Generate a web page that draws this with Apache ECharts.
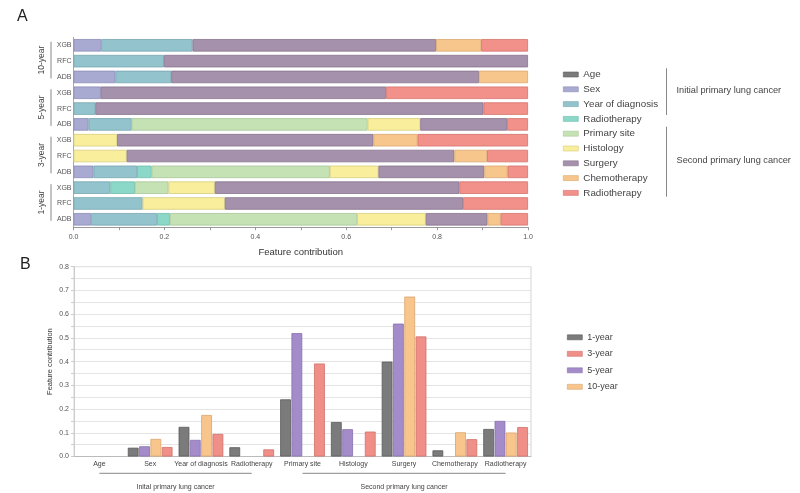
<!DOCTYPE html>
<html><head><meta charset="utf-8">
<script src="https://cdn.jsdelivr.net/npm/echarts/dist/echarts.min.js"></script>
<style>html,body{margin:0;padding:0;background:#fff}#c{width:800px;height:493px}</style>
</head><body><div id="c"></div><script>
// ---------- Panel A data ----------
var horizons = ['10-year', '5-year', '3-year', '1-year'];
var models = ['XGB', 'RFC', 'ADB'];
var featureNames = ['Age', 'Sex', 'Year of diagnosis', 'Radiotherapy', 'Primary site', 'Histology', 'Surgery', 'Chemotherapy', 'Radiotherapy'];
var featureKeys = ['Age', 'Sex', 'Year of diagnosis', 'Radiotherapy (initial)', 'Primary site', 'Histology', 'Surgery', 'Chemotherapy', 'Radiotherapy (second)'];
// rows: 10y XGB,RFC,ADB | 5y XGB,RFC,ADB | 3y XGB,RFC,ADB | 1y XGB,RFC,ADB
var aAge       = [0, 0, 0,         0, 0, 0,         0, 0, 0,         0, 0, 0];
var aSex       = [0.061, 0, 0.092, 0.060, 0, 0.033, 0, 0, 0.044,     0, 0, 0.039];
var aYear      = [0.201, 0.199, 0.123, 0, 0.048, 0.095, 0, 0, 0.096, 0.081, 0.152, 0.145];
var aRadioInit = [0, 0, 0,         0, 0, 0,         0, 0, 0.032,     0.054, 0, 0.028];
var aPrimary   = [0, 0, 0,         0, 0, 0.519,     0, 0, 0.392,     0.074, 0, 0.412];
var aHistology = [0, 0, 0,         0, 0, 0.116,     0.096, 0.117, 0.107, 0.102, 0.181, 0.151];
var aSurgery   = [0.536, 0.801, 0.677, 0.628, 0.854, 0.191, 0.564, 0.721, 0.233, 0.538, 0.524, 0.136];
var aChemo     = [0.099, 0, 0.108, 0, 0, 0,         0.097, 0.072, 0.051, 0, 0, 0.029];
var aRadioSec  = [0.103, 0, 0,     0.312, 0.098, 0.046, 0.243, 0.090, 0.045, 0.151, 0.143, 0.060];
var aTicks = ['0.0', '0.2', '0.4', '0.6', '0.8', '1.0'];

// ---------- Panel B data ----------
var bCategories = ['Age', 'Sex', 'Year of diagnosis', 'Radiotherapy', 'Primary site', 'Histology', 'Surgery', 'Chemotherapy', 'Radiotherapy'];
var b1year  = [0, 0.037, 0.125, 0.039, 0.241, 0.145, 0.400, 0.026, 0.116];
var b5year  = [0, 0.043, 0.070, 0, 0.520, 0.115, 0.560, 0, 0.150];
var b10year = [0, 0.074, 0.175, 0, 0, 0, 0.674, 0.102, 0.101];
var b3year  = [0, 0.040, 0.095, 0.030, 0.392, 0.105, 0.506, 0.073, 0.124];
var bTicks = ['0.0', '0.1', '0.2', '0.3', '0.4', '0.5', '0.6', '0.7', '0.8'];

// ---------- styles ----------
var aColors  = ['#7b7b7b', '#a9aad1', '#93c3cd', '#8bd8c8', '#c5e2b5', '#f8ee9c', '#a591ab', '#f7c68c', '#f2908a'];
var aBorders = ['#5e5e5e', '#8c8db6', '#77a6b0', '#6fbcac', '#a9c699', '#d8ce7e', '#88748e', '#d9a86f', '#d4726c'];
var bNames   = ['1-year', '5-year', '10-year', '3-year'];
var bColors  = ['#7b7b7b', '#a48cca', '#f8c58c', '#f08f88'];
var bBorders = ['#5c5c5c', '#8670ad', '#d9a56d', '#d0706a'];

var rowKeys = [];
horizons.forEach(function (h) { models.forEach(function (m) { rowKeys.push(h + '|' + m); }); });
var aSeriesData = [aAge, aSex, aYear, aRadioInit, aPrimary, aHistology, aSurgery, aChemo, aRadioSec];
var bSeriesData = [b1year, b5year, b10year, b3year];
function nz(arr) { return arr.map(function (v) { return v === 0 ? null : v; }); }

var legendLabel = {};
featureKeys.forEach(function (k, i) { legendLabel[k] = featureNames[i]; });
bNames.forEach(function (k) { legendLabel[k] = k; });

var bKeys = bCategories.map(function (c, i) { return i + '|' + c; });

var series = [];
featureKeys.forEach(function (k, i) {
  series.push({
    name: k, type: 'bar', stack: 'a', xAxisIndex: 0, yAxisIndex: 0,
    barCategoryGap: '21%',
    data: nz(aSeriesData[i]),
    itemStyle: { color: aColors[i], borderColor: aBorders[i], borderWidth: 0.8 }
  });
});
bNames.forEach(function (k, i) {
  series.push({
    name: k, type: 'bar', xAxisIndex: 1, yAxisIndex: 1,
    barCategoryGap: '12%', barGap: '5%',
    data: nz(bSeriesData[i]),
    itemStyle: { color: bColors[i], borderColor: bBorders[i], borderWidth: 0.8 }
  });
});

var font = 'Liberation Sans, Arial, sans-serif';
var chart = echarts.init(document.getElementById('c'), null, { renderer: 'canvas' });
chart.setOption({
  animation: false,
  textStyle: { fontFamily: font },
  grid: [
    { left: 73.5, top: 37.4, width: 454.5, height: 189.8 },
    { left: 74, top: 266.7, width: 457, height: 189.8, show: true, borderColor: '#d4d4d4', borderWidth: 1 }
  ],
  legend: [
    {
      orient: 'vertical', left: 558, top: 64.5, itemWidth: 15, itemHeight: 5, itemGap: 4.8,
      icon: 'rect', itemStyle: { borderWidth: 0.6 },
      data: featureKeys, formatter: function (n) { return legendLabel[n]; },
      textStyle: { fontSize: 9.8, color: '#444', fontFamily: font }, selectedMode: false
    },
    {
      orient: 'vertical', left: 562, top: 327.8, itemWidth: 15, itemHeight: 5, itemGap: 7.5,
      icon: 'rect', itemStyle: { borderWidth: 0.6 },
      data: ['1-year', '3-year', '5-year', '10-year'],
      textStyle: { fontSize: 9, color: '#444', fontFamily: font }, selectedMode: false
    }
  ],
  xAxis: [
    {
      type: 'value', gridIndex: 0, min: 0, max: 1, interval: 0.2,
      splitLine: { show: false },
      axisLine: { show: true, lineStyle: { color: '#999' } },
      axisTick: { show: true, length: 3, lineStyle: { color: '#999' } },
      minorTick: { show: true, splitNumber: 2, length: 3, lineStyle: { color: '#999' } },
      axisLabel: { fontSize: 7, color: '#555', margin: 6, formatter: function (v) { return aTicks[Math.round(v / 0.2)]; } },
      name: 'Feature contribution', nameLocation: 'middle', nameGap: 20, nameMoveOverlap: false,
      nameTextStyle: { fontSize: 9.5, color: '#333' }
    },
    {
      type: 'category', gridIndex: 1, data: bKeys,
      axisLine: { show: true, lineStyle: { color: '#bbb' } },
      axisTick: { show: false },
      axisLabel: { interval: 0, fontSize: 7, color: '#444', margin: 4, formatter: function (v, i) { return bCategories[i]; } }
    }
  ],
  yAxis: [
    {
      type: 'category', gridIndex: 0, inverse: true, data: rowKeys,
      axisLine: { show: true, lineStyle: { color: '#aaa' } },
      axisTick: { show: false },
      axisLabel: { fontSize: 7, color: '#555', margin: 2, formatter: function (v) { return v.split('|')[1]; } }
    },
    {
      type: 'value', gridIndex: 1, min: 0, max: 0.8, interval: 0.1,
      axisLine: { show: true, lineStyle: { color: '#ccc' } },
      axisTick: { show: true, length: 3, lineStyle: { color: '#ccc' } },
      minorTick: { show: true, splitNumber: 2, length: 3, lineStyle: { color: '#ccc' } },
      splitLine: { show: true, lineStyle: { color: '#e4e4e4' } },
      minorSplitLine: { show: true, lineStyle: { color: '#e4e4e4' } },
      axisLabel: { fontSize: 7, color: '#555', margin: 5, formatter: function (v) { return bTicks[Math.round(v / 0.1)]; } },
      name: 'Feature contribution', nameLocation: 'middle', nameGap: 20, nameMoveOverlap: false,
      nameTextStyle: { fontSize: 7.5, color: '#333' }
    }
  ],
  series: series
});

// ---------- annotations ----------
var g = [];
g.push({ type: 'text', left: 17, top: 9, style: { text: 'A', fontSize: 16, fill: '#222', fontFamily: font } });
g.push({ type: 'text', left: 20, top: 257, style: { text: 'B', fontSize: 16, fill: '#222', fontFamily: font } });
horizons.forEach(function (h, gi) {
  var c0 = chart.convertToPixel({ yAxisIndex: 0 }, rowKeys[gi * 3]);
  var c2 = chart.convertToPixel({ yAxisIndex: 0 }, rowKeys[gi * 3 + 2]);
  var y0 = c0 - 3.5, y1 = c2 + 1.5;
  g.push({ type: 'line', shape: { x1: 51, y1: y0, x2: 51, y2: y1 }, style: { stroke: '#888', lineWidth: 1 } });
  g.push({ type: 'text', x: 42, y: (y0 + y1) / 2, rotation: Math.PI / 2,
    style: { text: h, fontSize: 8.5, fill: '#444', fontFamily: font, align: 'center', verticalAlign: 'middle' } });
});
// legend group brackets (panel A)
g.push({ type: 'line', shape: { x1: 666.5, y1: 68.3, x2: 666.5, y2: 115 }, style: { stroke: '#888', lineWidth: 1 } });
g.push({ type: 'line', shape: { x1: 666.5, y1: 126.7, x2: 666.5, y2: 196.7 }, style: { stroke: '#888', lineWidth: 1 } });
g.push({ type: 'text', x: 676.5, y: 90.7, style: { text: 'Initial primary lung cancer', fontSize: 9.2, fill: '#444', fontFamily: font, verticalAlign: 'middle' } });
g.push({ type: 'text', x: 676.5, y: 160, style: { text: 'Second primary lung cancer', fontSize: 9.2, fill: '#444', fontFamily: font, verticalAlign: 'middle' } });
// panel B category brackets
var xa = chart.convertToPixel({ xAxisIndex: 1 }, bKeys[0]);
var xb = chart.convertToPixel({ xAxisIndex: 1 }, bKeys[3]);
var xc = chart.convertToPixel({ xAxisIndex: 1 }, bKeys[4]);
var xd = chart.convertToPixel({ xAxisIndex: 1 }, bKeys[8]);
g.push({ type: 'line', shape: { x1: xa, y1: 473.3, x2: xb, y2: 473.3 }, style: { stroke: '#888', lineWidth: 1 } });
g.push({ type: 'line', shape: { x1: xc, y1: 473.3, x2: xd, y2: 473.3 }, style: { stroke: '#888', lineWidth: 1 } });
g.push({ type: 'text', x: (xa + xb) / 2, y: 486.7, style: { text: 'Inital primary lung cancer', fontSize: 7, fill: '#444', fontFamily: font, align: 'center', verticalAlign: 'middle' } });
g.push({ type: 'text', x: (xc + xd) / 2, y: 486.7, style: { text: 'Second primary lung cancer', fontSize: 7, fill: '#444', fontFamily: font, align: 'center', verticalAlign: 'middle' } });
chart.setOption({ graphic: g });
</script></body></html>
